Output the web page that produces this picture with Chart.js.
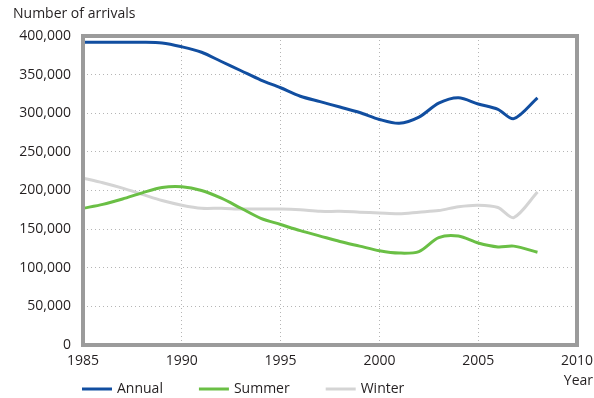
<!DOCTYPE html>
<html>
<head>
<meta charset="utf-8">
<script src="https://cdn.jsdelivr.net/npm/chart.js@4"></script>
<style>
  html, body { margin: 0; padding: 0; background: #fff; }
  #wrap { width: 594px; height: 398px; }
</style>
</head>
<body>
<div id="wrap"><canvas id="grafik" width="594" height="398"></canvas></div>
<script>
// data (tahun, jumlah kedatangan)
const years  = [1985, 1986, 1987, 1988, 1989, 1990, 1991, 1992, 1993, 1994, 1995, 1996,
                1997, 1998, 1999, 2000, 2001, 2002, 2003, 2004, 2005, 2006, 2006.8, 2008];
const annual = [392000, 392000, 392000, 392000, 391000, 386000, 379000, 367000, 355000, 343000, 333000, 322000,
                315000, 308000, 301000, 292000, 287000, 295000, 313000, 320000, 312000, 305000, 293000, 320000];
const summer = [177000, 182000, 189000, 197000, 204000, 205000, 200000, 190000, 177000, 164000, 156000, 148000,
                141000, 134000, 128000, 122000, 119000, 121000, 139000, 141000, 132000, 127000, 128000, 120000];
const winter = [216000, 210000, 203000, 195000, 187000, 181000, 177000, 177000, 176000, 176000, 176000, 175000,
                173000, 173000, 172000, 171000, 170000, 172000, 174000, 179000, 181000, 178000, 165000, 198000];
const yTicks = [0, 50000, 100000, 150000, 200000, 250000, 300000, 350000, 400000];
const xTicks = [1985, 1990, 1995, 2000, 2005, 2010];

const fontFam = '"Open Sans", sans-serif';
const textColor = '#231f20';

function toPoints(vals) {
    return years.map((y, i) => ({ x: y, y: vals[i] }));
}

// bingkai abu-abu, judul sumbu dan legenda
const extras = {
    id: 'extras',
    afterDraw(chart) {
        const ctx = chart.ctx;
        const a = chart.chartArea;
        ctx.save();
        ctx.strokeStyle = '#9b9b9b';
        ctx.lineWidth = 4;
        ctx.strokeRect(a.left, a.top, a.right - a.left, a.bottom - a.top);

        ctx.fillStyle = textColor;
        ctx.font = '14px ' + fontFam;
        ctx.textBaseline = 'middle';
        ctx.textAlign = 'left';
        ctx.fillText('Number of arrivals', 13, 14);
        ctx.textAlign = 'right';
        ctx.fillText('Year', 593, 381);

        // legenda
        ctx.textAlign = 'left';
        let x = 82;
        const y = 389;
        chart.data.datasets.forEach(ds => {
            ctx.strokeStyle = ds.borderColor;
            ctx.lineWidth = 3;
            ctx.beginPath();
            ctx.moveTo(x, y);
            ctx.lineTo(x + 30, y);
            ctx.stroke();
            ctx.fillStyle = textColor;
            ctx.fillText(ds.label, x + 35, y);
            x += 35 + ctx.measureText(ds.label).width + 36;
        });
        ctx.restore();
    }
};

const ctx = document.getElementById('grafik').getContext('2d');
const myChart = new Chart(ctx, {
    type: 'line',
    data: {
        datasets: [
            { label: 'Annual', data: toPoints(annual), borderColor: '#114ea0', borderWidth: 3 },
            { label: 'Summer', data: toPoints(summer), borderColor: '#6abf45', borderWidth: 3 },
            { label: 'Winter', data: toPoints(winter), borderColor: '#d4d4d4', borderWidth: 3 }
        ]
    },
    options: {
        responsive: false,
        animation: false,
        layout: { padding: { top: 36, right: 17, bottom: 0, left: 0 } },
        elements: {
            point: { radius: 0 },
            line: { tension: 0.3 }
        },
        plugins: {
            legend: { display: false },
            tooltip: { enabled: false }
        },
        scales: {
            x: {
                type: 'linear',
                min: 1985,
                max: 2010,
                afterFit: s => { s.height = 53; s.paddingLeft = 0; s.paddingRight = 0; },
                afterBuildTicks: s => { s.ticks = xTicks.map(v => ({ value: v })); },
                ticks: {
                    color: textColor,
                    font: { family: fontFam, size: 14 },
                    padding: 8,
                    maxRotation: 0,
                    callback: v => String(v)
                },
                grid: { color: '#b5b5b5', drawTicks: false },
                border: { display: false, dash: [1, 3] }
            },
            y: {
                min: 0,
                max: 400000,
                afterFit: s => { s.width = 83; s.paddingTop = 0; s.paddingBottom = 0; },
                afterBuildTicks: s => { s.ticks = yTicks.map(v => ({ value: v })); },
                ticks: {
                    color: textColor,
                    font: { family: fontFam, size: 14 },
                    padding: 12,
                    callback: v => v.toLocaleString('en-US')
                },
                grid: { color: '#b5b5b5', drawTicks: false },
                border: { display: false, dash: [1, 3] }
            }
        }
    },
    plugins: [extras]
});
</script>
</body>
</html>
